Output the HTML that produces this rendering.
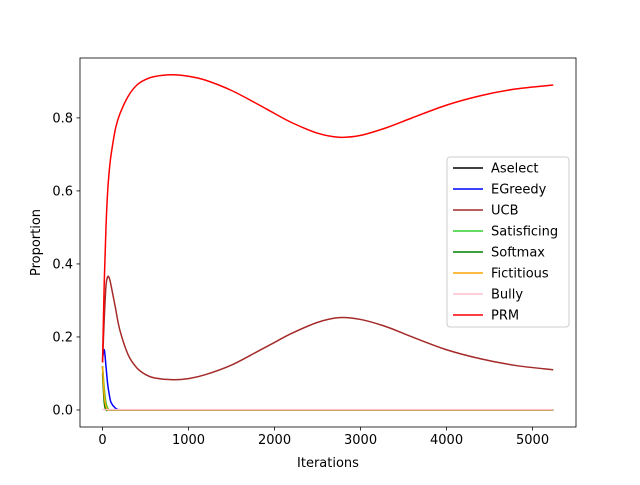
<!DOCTYPE html>
<html><head><meta charset="utf-8"><style>
body{margin:0;background:#fff}
svg text{font-family:"DejaVu Sans","Liberation Sans",sans-serif;font-size:13px;fill:#000}
</style></head><body>
<svg id="chart" width="640" height="480" xmlns="http://www.w3.org/2000/svg">
<rect width="640" height="480" fill="#fff"/>
<g id="plot"></g>
<g id="axes"></g>
<g id="legend"></g>
</svg>
<script>
const xs = [0,20,40,60,80,100,150,200,300,400,500,600,800,1000,1200,1500,1800,2000,2200,2500,2750,3000,3300,3600,4000,4400,4800,5240];
const prm = [0.13,0.35,0.5,0.6,0.66,0.7,0.77,0.81,0.86,0.89,0.905,0.913,0.918,0.914,0.903,0.875,0.838,0.812,0.787,0.758,0.747,0.752,0.773,0.8,0.835,0.861,0.879,0.89];
const ucb = [0.13,0.25,0.34,0.365,0.36,0.34,0.28,0.22,0.15,0.115,0.097,0.088,0.083,0.086,0.097,0.123,0.16,0.185,0.21,0.24,0.253,0.248,0.228,0.2,0.165,0.14,0.122,0.11];
const egreedy = [0.14,0.165,0.12,0.07,0.04,0.02,0.005,0,0,0,0,0,0,0,0,0,0,0,0,0,0,0,0,0,0,0,0,0];
const aselect = [0.12,0.03,0.005,0,0,0,0,0,0,0,0,0,0,0,0,0,0,0,0,0,0,0,0,0,0,0,0,0];
const satisficing = [0.12,0.06,0.02,0.005,0,0,0,0,0,0,0,0,0,0,0,0,0,0,0,0,0,0,0,0,0,0,0,0];
const softmax = [0.1,0.02,0,0,0,0,0,0,0,0,0,0,0,0,0,0,0,0,0,0,0,0,0,0,0,0,0,0];
const fictitious = [0.12,0.04,0.01,0,0,0,0,0,0,0,0,0,0,0,0,0,0,0,0,0,0,0,0,0,0,0,0,0];
const bully = [0.002,0.001,0.001,0.001,0.001,0.001,0.001,0.001,0.001,0.001,0.001,0.001,0.001,0.001,0.001,0.001,0.001,0.001,0.001,0.001,0.001,0.001,0.001,0.001,0.001,0.001,0.001,0.001];
const seriesNames = ["Aselect","EGreedy","UCB","Satisficing","Softmax","Fictitious","Bully","PRM"];
const seriesData = [aselect,egreedy,ucb,satisficing,softmax,fictitious,bully,prm];
const seriesColors = ["#000000","#0000ff","#a52a2a","#32cd32","#008000","#ffa500","#ffc0cb","#ff0000"];
const xTicks = [0,1000,2000,3000,4000,5000];
const yTicks = [0,0.2,0.4,0.6,0.8];
const yTickLabels = ["0.0","0.2","0.4","0.6","0.8"];

const L=80,R=576,T=58,B=427;
const xmin=-262,xmax=5505,ymin=-0.0466,ymax=0.964;
const sx=v=>L+(v-xmin)/(xmax-xmin)*(R-L);
const sy=v=>B-(v-ymin)/(ymax-ymin)*(B-T);
const NS="http://www.w3.org/2000/svg";
function mk(tag,attrs,parent){const e=document.createElementNS(NS,tag);for(const k in attrs)e.setAttribute(k,attrs[k]);parent.appendChild(e);return e;}
const plot=document.getElementById('plot'),axes=document.getElementById('axes'),leg=document.getElementById('legend');

function smoothPath(px,py){
  let d=`M${px[0]},${py[0]}`;
  for(let i=0;i<px.length-1;i++){
    const x0=px[Math.max(i-1,0)],y0=py[Math.max(i-1,0)],x1=px[i],y1=py[i],x2=px[i+1],y2=py[i+1],x3=px[Math.min(i+2,px.length-1)],y3=py[Math.min(i+2,px.length-1)];
    const c1x=x1+(x2-x0)/6,c1y=y1+(y2-y0)/6,c2x=x2-(x3-x1)/6,c2y=y2-(y3-y1)/6;
    d+=` C${c1x},${c1y} ${c2x},${c2y} ${x2},${y2}`;
  }
  return d;
}
seriesData.forEach((arr,i)=>{
  const p=mk('path',{d:smoothPath(xs.map(sx),arr.map(sy)),fill:'none',stroke:seriesColors[i],'stroke-width':1.5,'stroke-linejoin':'round'},plot);
  
  
});
const frame=mk('rect',{x:L,y:T,width:R-L,height:B-T,fill:'none',stroke:'#000','stroke-width':0.8},axes);


xTicks.forEach(v=>{
  const x=sx(v);
  mk('line',{x1:x,x2:x,y1:B,y2:B+3.5,stroke:'#000','stroke-width':0.8},axes);
  const t=mk('text',{x:x,y:B+17,'text-anchor':'middle'},axes);t.textContent=v;
  
  
});
yTicks.forEach((v,i)=>{
  const y=sy(v);
  mk('line',{x1:L,x2:L-3.5,y1:y,y2:y,stroke:'#000','stroke-width':0.8},axes);
  const t=mk('text',{x:L-7,y:y+4.5,'text-anchor':'end'},axes);t.textContent=yTickLabels[i];
  
  
});
const xt=mk('text',{x:(L+R)/2,y:467,'text-anchor':'middle'},axes);xt.textContent='Iterations';


const yt=mk('text',{x:40,y:(T+B)/2,'text-anchor':'middle',transform:`rotate(-90 40 ${(T+B)/2})`},axes);yt.textContent='Proportion';


const box=mk('rect',{x:447,y:157,width:122,height:170,rx:3,fill:'#fff','fill-opacity':0.8,stroke:'#ccc','stroke-width':1},leg);


seriesNames.forEach((n,i)=>{
  const y=168+i*21;
  const g=mk('g',{},leg);
  
  
  mk('line',{x1:453,x2:483,y1:y,y2:y,stroke:seriesColors[i],'stroke-width':1.5},g);
  const t=mk('text',{x:491,y:y+4.5},g);t.textContent=n;
});
</script>
</body></html>
